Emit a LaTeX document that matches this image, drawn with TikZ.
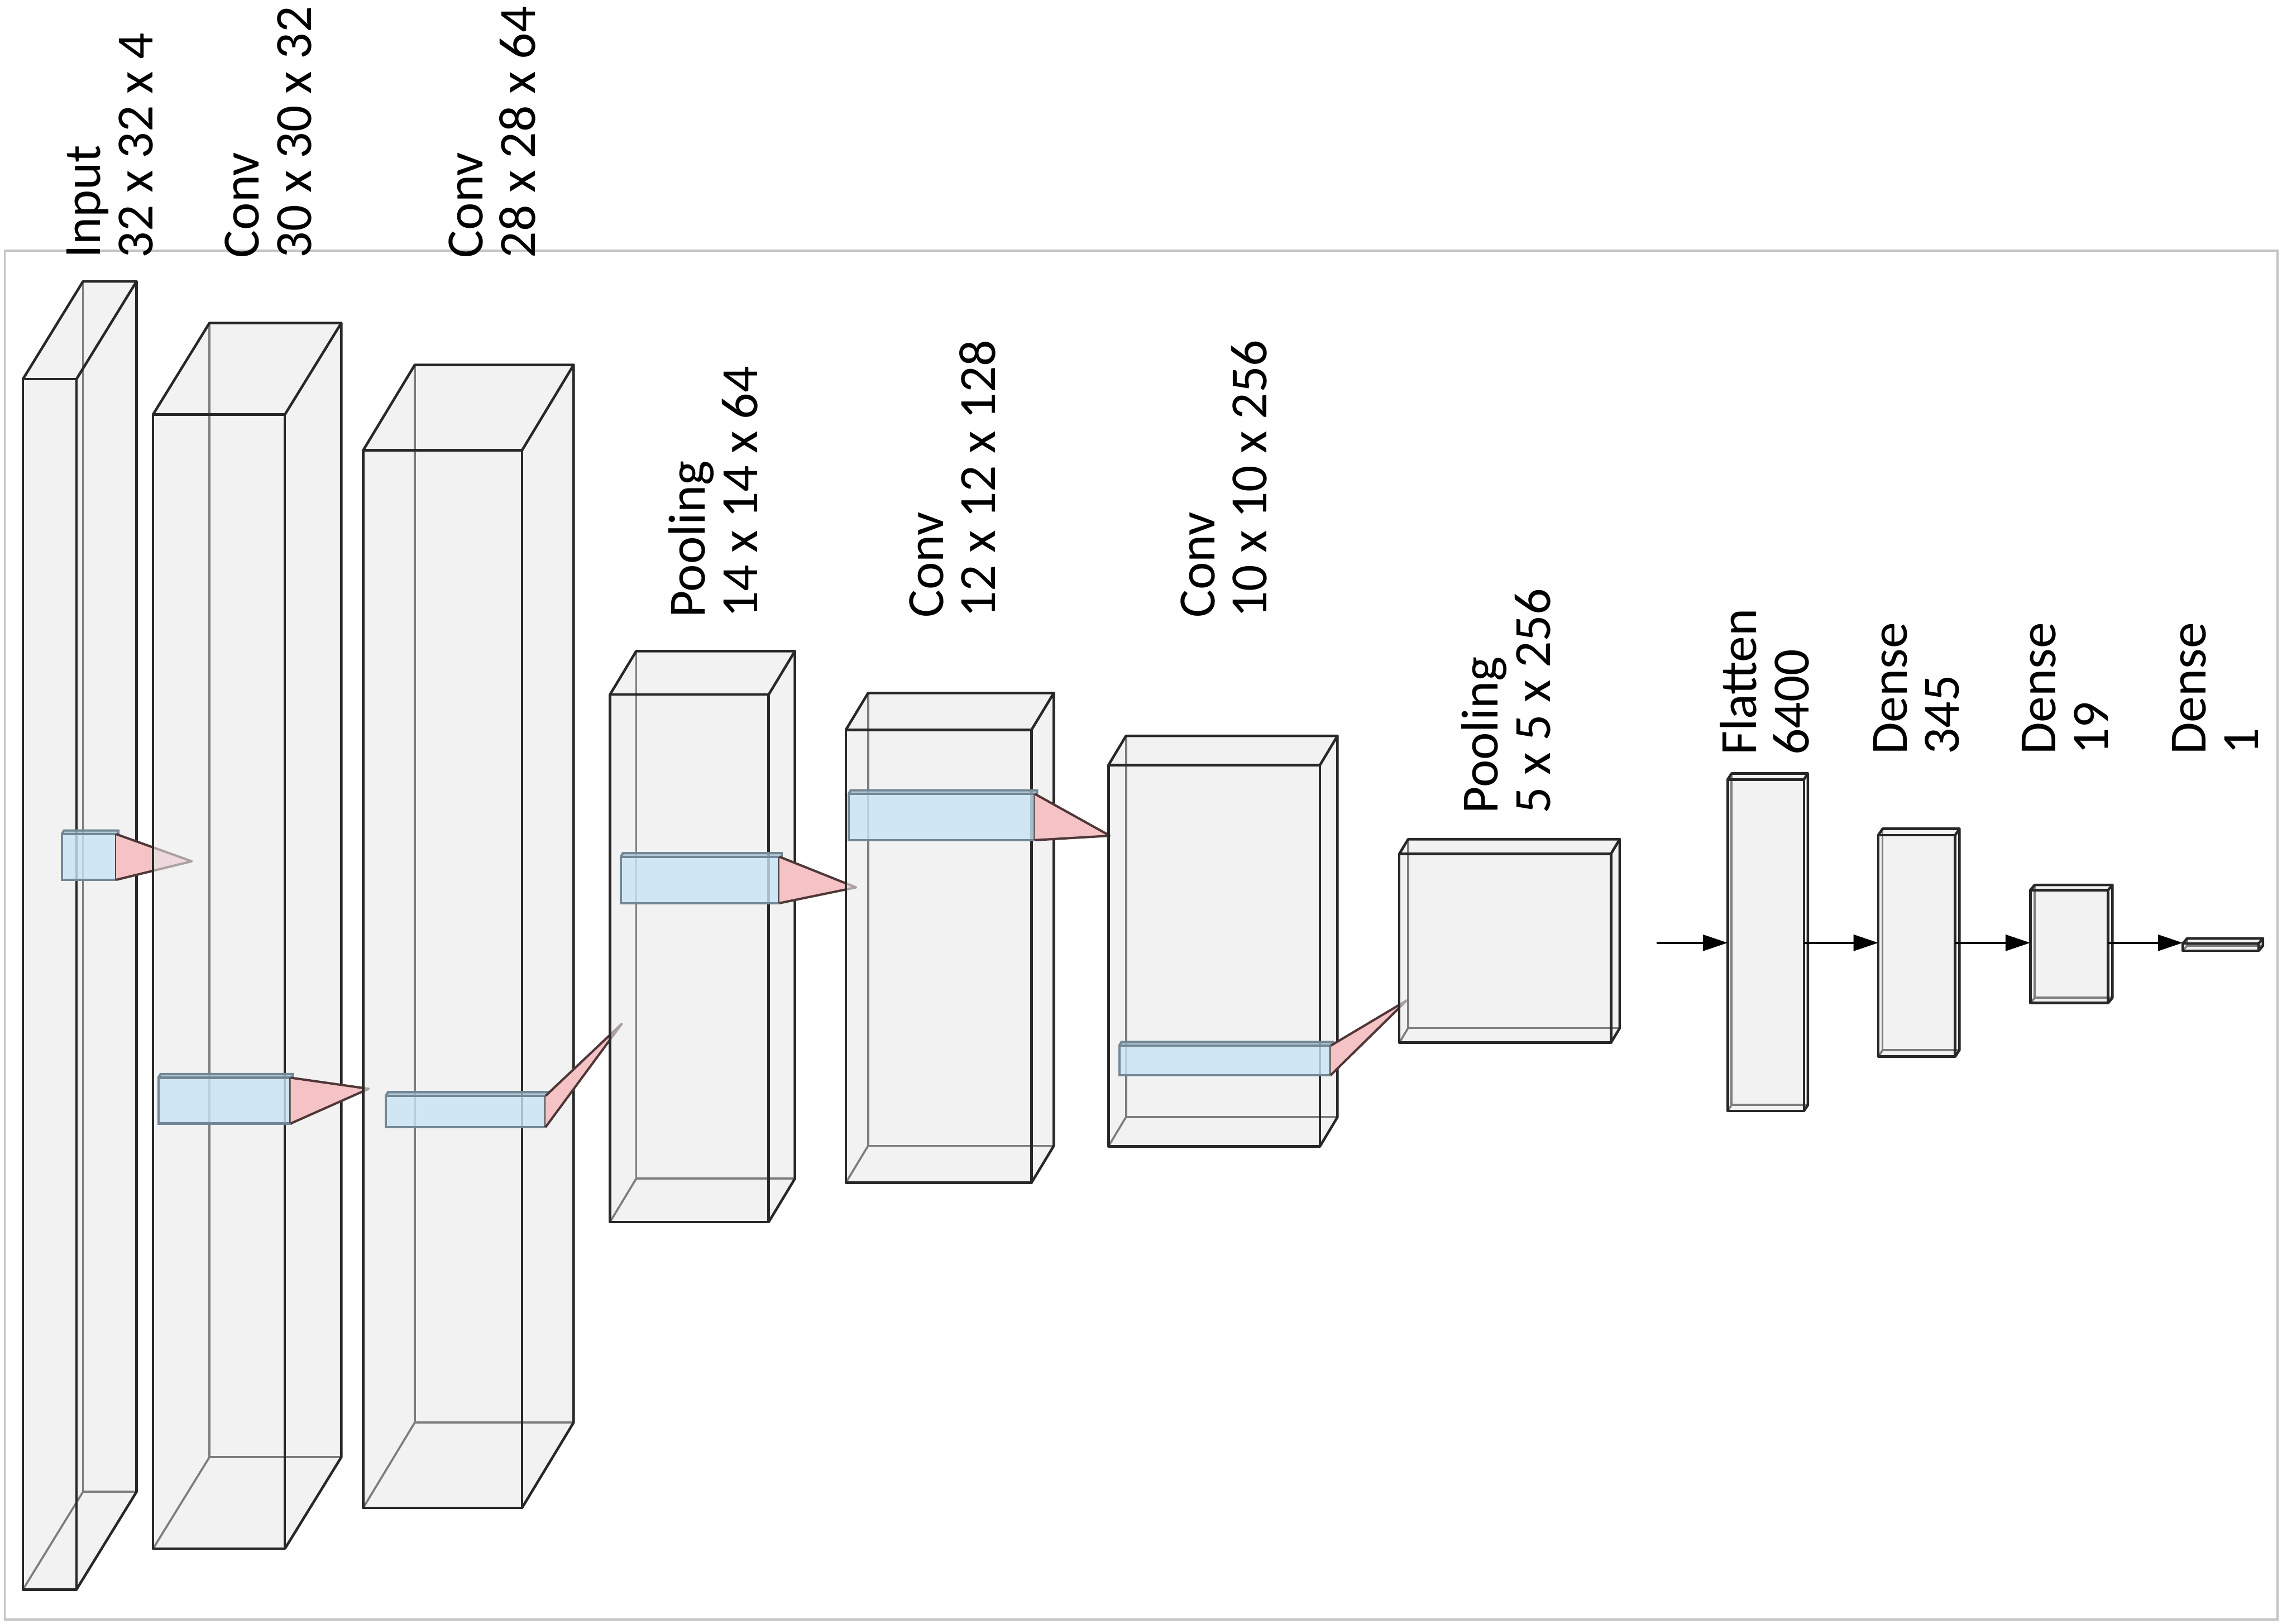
\documentclass[tikz,border=0pt]{standalone}
\usepackage{fontspec}
\setmainfont{Carlito}
\usetikzlibrary{arrows.meta,fit}
\definecolor{boxc}{RGB}{233,233,233}
\definecolor{edgec}{RGB}{40,40,40}
\definecolor{hidc}{RGB}{125,125,125}
\definecolor{barc}{RGB}{200,228,244}
\definecolor{barstripc}{RGB}{165,190,205}
\definecolor{baredge}{RGB}{115,135,150}
\definecolor{pinkc}{RGB}{245,195,198}
\definecolor{pinkedge}{RGB}{80,55,55}
\definecolor{framec}{RGB}{195,195,195}
\tikzset{
  boxfill/.style={fill=boxc, fill opacity=0.6},
  hid/.style={draw=hidc, line width=0.4pt},
  edg/.style={draw=edgec, line width=0.5pt, line join=round},
  lab/.style={rotate=90, anchor=south west, inner sep=0pt, outer sep=0pt, align=left, font=\fontsize{10.2}{10.2}\selectfont},
  arr/.style={draw=black, line width=0.45pt, -{Triangle[length=1.7mm,width=1.1mm]}},
}
% #1 name, #2 x1, #3 y1 (top), #4 x2, #5 y2 (bottom), #6 dx, #7 depth upwards
\newcommand\layerbox[7]{%
  \fill[boxfill] (#2,#5) -- (#2,#3) -- ({#2+#6},{#3-#7}) -- ({#4+#6},{#3-#7}) -- ({#4+#6},{#5-#7}) -- (#4,#5) -- cycle;
  \draw[hid] ({#2+#6},{#3-#7}) -- ({#2+#6},{#5-#7}) -- ({#4+#6},{#5-#7});
  \draw[hid] (#2,#5) -- ({#2+#6},{#5-#7});
  \node[fit={(#2,#3) (#4,#5)}, inner sep=0pt, outer sep=0pt, edg] (#1) {};
  \draw[edg] (#2,#3) -- ({#2+#6},{#3-#7}) -- ({#4+#6},{#3-#7}) -- ({#4+#6},{#5-#7}) -- (#4,#5);
  \draw[edg] (#4,#3) -- ({#4+#6},{#3-#7});
}
% #1 name, #2 x1, #3 y1, #4 x2, #5 y2
\newcommand\kmap[5]{%
  \fill[barstripc, fill opacity=0.8] (#2,#3) -- ({#2+1.5},{#3-2.5}) -- ({#4+1.5},{#3-2.5}) -- ({#4+1.5},{#5-2.5}) -- (#4,#5) -- (#4,#3) -- cycle;
  \node[fit={(#2,#3) (#4,#5)}, inner sep=0pt, outer sep=0pt, fill=barc, fill opacity=0.8, draw=baredge, line width=0.45pt] (#1) {};
  \draw[draw=baredge, line width=0.45pt] (#2,#3) -- ({#2+1.5},{#3-2.5}) -- ({#4+1.5},{#3-2.5}) -- ({#4+1.5},{#5-2.5}) -- (#4,#5);
  \draw[draw=edgec!85, line width=0.55pt] (#4,#3) -- (#4,#5);
}
% #1 bar node, #2 tip coordinate
\newcommand\kcone[2]{%
  \fill[pinkc] (#1.north east) -- (#2) -- (#1.south east) -- cycle;
  \draw[pinkedge, line width=0.45pt, line join=round] (#1.north east) -- (#2) -- (#1.south east);
}
\begin{document}
\begin{tikzpicture}[x=0.1mm, y=-0.1mm]
\useasboundingbox (0,0) rectangle (1568,1113.36);
% frame
\draw[framec, line width=0.4pt] (3.3,172) rectangle (1561.5,1110.5);

% tips of the projection cones
\coordinate (t1) at (131.5,590.6);
\coordinate (t2) at (252.8,746.6);
\coordinate (t3) at (426.3,702);
\coordinate (t4) at (586.9,608.5);
\coordinate (t5) at (761,573.1);
\coordinate (t6) at (964.5,686);

% convolutional part
\layerbox{inp}{15.7}{260}{52.4}{1090}{41.2}{67}
\kmap{binp}{42.4}{572}{79.7}{603.3}
\kcone{binp}{t1}

\layerbox{convA}{104.9}{284.3}{195.3}{1062}{38.7}{62.8}
\kmap{bconvA}{108.6}{739}{199.3}{770.4}
\kcone{bconvA}{t2}

\layerbox{convB}{249}{308.8}{357.9}{1034}{35.4}{58.6}
\kmap{bconvB}{264.5}{751.4}{374.1}{772.8}
\kcone{bconvB}{t3}

\layerbox{poolA}{418.2}{476.3}{527}{838}{18}{29.8}
\kmap{bpoolA}{425.6}{587.5}{534.4}{619.3}
\kcone{bpoolA}{t4}

\layerbox{convC}{579.9}{500.5}{707.2}{811}{15.3}{25.3}
\kmap{bconvC}{581.8}{544.4}{709.5}{576.1}
\kcone{bconvC}{t5}

\layerbox{convD}{760}{524.6}{905}{786}{12}{20}
\kmap{bconvD}{767.4}{717}{912.4}{737.2}
\kcone{bconvD}{t6}

\layerbox{poolB}{959.4}{585.5}{1104.5}{715}{6}{10}

% dense part
\layerbox{flat}{1184.5}{534.5}{1236.8}{761.8}{2.7}{4.1}
\layerbox{dA}{1287.8}{572.7}{1340.5}{724.5}{2.9}{4.4}
\layerbox{dB}{1392}{610.4}{1445.3}{687.8}{3}{3.6}
\layerbox{dC}{1496.5}{647}{1548.5}{652}{3}{3.5}

\coordinate (ain) at (1135.7,646.5);
\draw[arr] (ain) -- (ain -| flat.west);
\draw[arr] (ain -| flat.east) -- (ain -| dA.west);
\draw[arr] (ain -| dA.east) -- (ain -| dB.west);
\draw[arr] (ain -| dB.east) -- (ain -| dC.west);

% labels
\node[lab] (l1) at (104.9,176.9) {Input\\32 x 32 x 4};
\node[lab] (l2) at (213.6,176.9) {Conv\\30 x 30 x 32};
\node[lab] (l3) at (367,176.9) {Conv\\28 x 28 x 64};
\node[lab] (l4) at (519.4,423.7) {Pooling\\14 x 14 x 64};
\node[lab] (l5) at (682.8,423.7) {Conv\\12 x 12 x 128};
\node[lab] (l6) at (868.8,423.7) {Conv\\10 x 10 x 256};
\node[lab] (l7) at (1063.1,557.9) {Pooling\\5 x 5 x 256};
\node[lab] (l8) at (1240.4,517.9) {Flatten\\6400};
\node[lab] (l9) at (1343.4,517.5) {Dense\\345};
\node[lab] (l10) at (1445.3,517.5) {Dense\\19};
\node[lab] (l11) at (1548.3,517.5) {Dense\\1};
\end{tikzpicture}
\end{document}
